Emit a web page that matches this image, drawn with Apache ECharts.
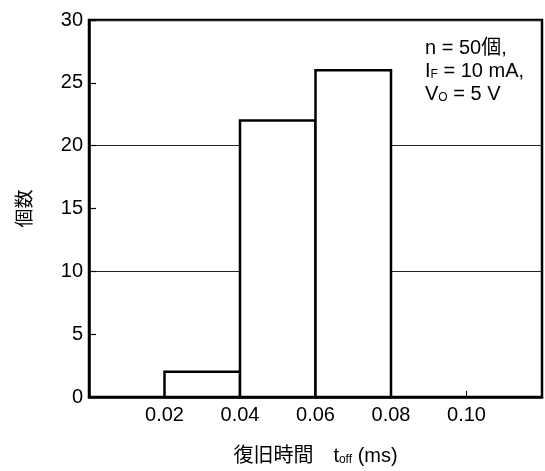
<!DOCTYPE html>
<html>
<head>
<meta charset="utf-8">
<script src="https://cdn.jsdelivr.net/npm/echarts@6/dist/echarts.min.js"></script>
<style>html,body{margin:0;padding:0;background:#fff;}#c{width:545px;height:471px;}</style>
</head>
<body>
<div id="c"></div>
<script>
const binStarts = [0.02, 0.04, 0.06];
const binEnds = [0.04, 0.06, 0.08];
const counts = [2, 22, 26];
const xLabels = ['0.02', '0.04', '0.06', '0.08', '0.10'];
const yAxisName = '個数';
const noteLines = ['n = 50個,', 'I{s|F} = 10 mA,', 'V{s|O} = 5 V'];

const FONT = '"Liberation Sans", "Noto Sans CJK JP", sans-serif';
const chart = echarts.init(document.getElementById('c'));
const barData = binStarts.map((s, i) => [s, binEnds[i], counts[i]]);

chart.setOption({
  animation: false,
  grid: { left: 89, top: 20, right: 2, bottom: 74, show: true, borderColor: '#000', borderWidth: 2.5, backgroundColor: 'transparent' },
  xAxis: {
    type: 'value', min: 0, max: 0.12, interval: 0.02,
    axisLine: { show: true, lineStyle: { color: '#000', width: 2.5 } },
    axisTick: { show: true, inside: true, length: 6, lineStyle: { color: '#000', width: 1 } },
    splitLine: { show: false },
    axisLabel: {
      color: '#000', fontSize: 20, fontFamily: FONT, margin: 8,
      formatter: v => { const i = Math.round(v / 0.02) - 1; return (i >= 0 && i < xLabels.length) ? xLabels[i] : ''; }
    },
    name: '復旧時間　t{s|off} (ms)', nameLocation: 'middle', nameGap: 49,
    nameTextStyle: { color: '#000', fontSize: 20, fontFamily: FONT, rich: { s: { fontSize: 12, fontFamily: FONT, color: '#000', verticalAlign: 'bottom' } } }
  },
  yAxis: [{
    type: 'value', min: 0, max: 30, interval: 5,
    axisLine: { show: true, lineStyle: { color: '#000', width: 2.5 } },
    axisTick: { show: true, inside: true, length: 7, lineStyle: { color: '#000', width: 1.2 } },
    splitLine: { show: false },
    axisLabel: { color: '#000', fontSize: 20, fontFamily: FONT, margin: 6 },
    name: yAxisName, nameLocation: 'middle', nameGap: 54,
    nameTextStyle: { color: '#000', fontSize: 19, fontFamily: FONT }
  }, {
    type: 'value', min: 0, max: 30, interval: 10, position: 'left',
    axisLine: { show: false }, axisTick: { show: false }, axisLabel: { show: false },
    splitLine: { show: true, lineStyle: { color: '#222', width: 1.2 } }
  }],
  series: [{
    type: 'custom',
    data: barData,
    encode: { x: [0, 1], y: 2 },
    renderItem: (params, api) => {
      const p0 = api.coord([api.value(0), api.value(2)]);
      const p1 = api.coord([api.value(1), 0]);
      return {
        type: 'rect',
        shape: { x: p0[0], y: p0[1], width: p1[0] - p0[0], height: p1[1] - p0[1] },
        style: { fill: '#fff', stroke: '#000', lineWidth: 2.5 }
      };
    },
    z: 3
  }],
  graphic: noteLines.map((t, i) => ({
    type: 'text', left: 425, top: 38 + i * 23, z: 10,
    style: {
      text: t, fill: '#000', fontSize: 20, fontFamily: FONT,
      rich: { s: { fontSize: 12, fontFamily: FONT, fill: '#000', verticalAlign: 'bottom' } }
    }
  }))
});
</script>
</body>
</html>
